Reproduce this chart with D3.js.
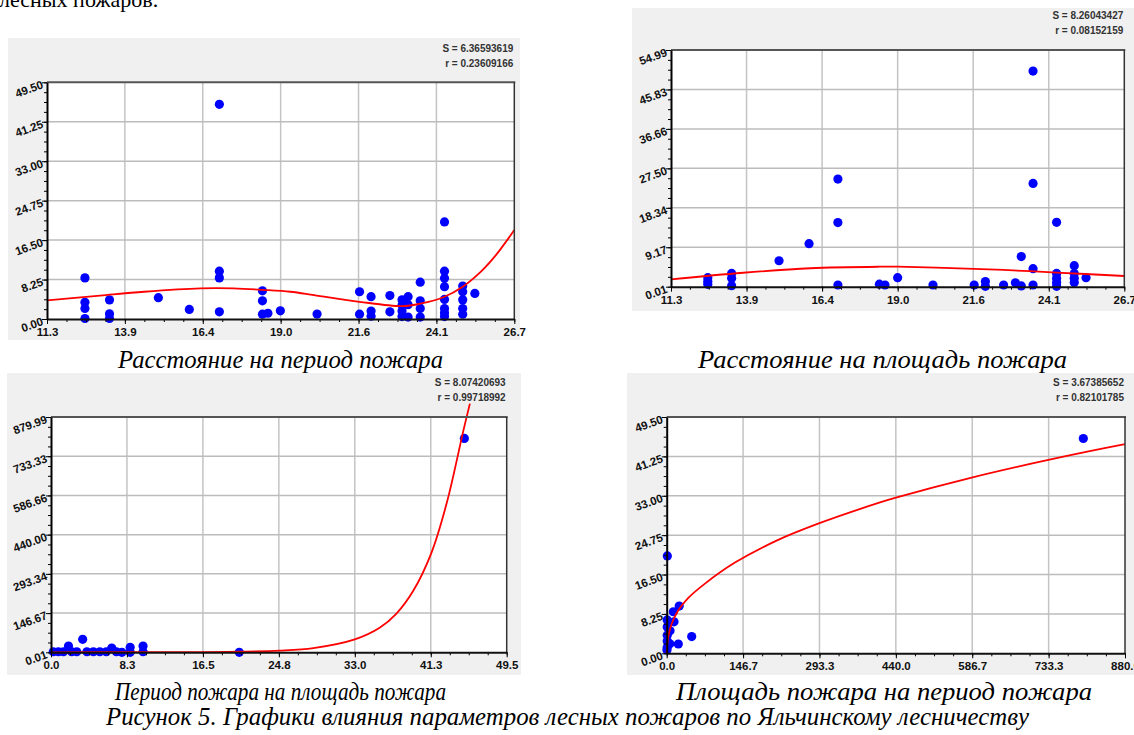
<!DOCTYPE html>
<meta charset="utf-8">
<style>
body { margin: 0; background: #fff; }
svg { display: block; }
.tk text { font: bold 11.5px "Liberation Sans", Arial, sans-serif; fill: #111; }
.stat { font: bold 10px "Liberation Sans", Arial, sans-serif; fill: #333; }
.cap { font: italic 25px "Liberation Serif", "Times New Roman", serif; fill: #000; }
</style>
<body>
<script src="https://cdn.jsdelivr.net/npm/d3@7"></script>
<script>

// ---- panel 1: distance vs fire period
var p1XLabels = ["11.3","13.9","16.4","19.0","21.6","24.1","26.7"];
var p1YLabels = ["0.00","8.25","16.50","24.75","33.00","41.25","49.50"];
var p1Dist   = [12.55,12.55,12.55,12.55,13.36,13.36,13.36,14.97,15.99,16.98,16.98,16.98,16.98,18.4,18.4,18.4,18.58,18.99,20.2,21.6,21.6,21.98,21.98,21.98,22.6,22.6,23.0,23.0,23.0,23.0,23.2,23.2,23.2,23.6,23.6,23.6,23.6,24.4,24.4,24.4,24.4,24.4,24.4,24.4,24.4,25.0,25.0,25.0,25.0,25.0,25.4];
var p1Period = [8.6,3.5,2.2,0.1,4.0,1.1,0.1,4.45,2.0,44.9,10.0,8.6,1.5,5.9,3.8,1.0,1.2,1.7,1.04,5.7,1.0,4.66,1.67,0.6,4.9,1.5,4.0,2.9,1.67,0.5,4.66,3.0,0.4,7.7,3.8,2.2,0.4,20.3,10.0,8.5,6.75,4.1,2.2,1.3,0.5,6.9,5.7,4.0,2.2,1.0,5.35];
var p1FitX = [11.3,13.05,14.5,16.35,17.45,18.4,19.32,20.1,21.6,23.0,23.6,24.4,25.0,25.6,26.1,26.7];
var p1FitY = [3.9,4.9,5.7,6.4,6.4,6.1,5.7,5.0,3.6,2.7,3.2,4.66,6.75,9.9,13.4,18.6];
var p1Stats = ["S = 6.36593619", "r = 0.23609166"];

// ---- panel 2: distance vs fire area
var p2XLabels = ["11.3","13.9","16.4","19.0","21.6","24.1","26.7"];
var p2YLabels = ["0.01","9.17","18.34","27.50","36.66","45.83","54.99"];
var p2Dist = [12.55,12.55,12.55,13.36,13.36,13.36,14.97,15.99,16.97,16.97,16.97,18.38,18.57,19.0,20.2,21.6,21.98,21.98,22.6,23.0,23.2,23.2,23.6,23.6,23.6,23.6,24.4,24.4,24.4,24.4,24.4,25.0,25.0,25.0,25.0,25.4];
var p2Area = [2.1,1.3,0.56,3.1,1.95,0.25,6.04,10.0,25.0,14.9,0.4,0.6,0.4,2.1,0.4,0.4,1.2,0.1,0.4,0.9,7.0,0.2,50.1,24.0,4.2,0.4,14.96,3.1,2.0,1.0,0.1,4.9,3.1,2.0,1.0,2.1];
var p2FitX = [11.3,13.75,16.03,18.38,19.0,20.3,22.6,24.4,26.7];
var p2FitY = [1.7,3.25,4.3,4.65,4.65,4.45,3.9,3.3,2.5];
var p2Stats = ["S = 8.26043427", "r = 0.08152159"];

// ---- panel 3: fire period vs fire area
var p3XLabels = ["0.0","8.3","16.5","24.8","33.0","41.3","49.5"];
var p3YLabels = ["0.01","146.67","293.34","440.00","586.66","733.33","879.99"];
var p3Period = [0.25,0.8,1.35,1.9,2.25,2.8,3.44,3.9,4.6,5.3,6.0,6.6,7.1,7.7,8.6,8.6,10.0,10.0,20.45,44.9];
var p3Area   = [2,2,2,23.6,2,2,48.6,2,2,2,2,16,2,0,18.7,0,23.6,2,0,800];
var p3FitX = [0,8.3,16.5,20.5,24.8,28.5,33,35.7,37.5,39.35,41.3,43,44.8,45.5];
var p3FitY = [0.1,0.5,1,2.5,6.5,16,48.6,92,144,230,370,560,830,930];
var p3Stats = ["S = 8.07420693", "r = 0.99718992"];

// ---- panel 4: fire area vs fire period
var p4XLabels = ["0.0","146.7","293.3","440.0","586.7","733.3","880.0"];
var p4YLabels = ["0.00","8.25","16.50","24.75","33.00","41.25","49.50"];
var p4Area   = [1.2,24,12.7,14,1,1,6.4,1,1,1,22.3,48,6,0.5,800];
var p4Period = [20.4,9.9,8.7,6.6,7,5.5,4.7,3.8,2.6,1.2,1.95,3.5,2.0,0.7,45.0];
var p4FitX = [0,3,9.6,22.3,41.5,73.5,131,211,292,409.6,440,585.6,732.8,880];
var p4FitY = [0,3.5,6.2,9.0,11.6,14.6,19.0,23.6,27.2,31.6,32.6,36.8,40.5,43.8];
var p4Stats = ["S = 3.67385652", "r = 0.82101785"];

var captions = ["Расстояние на период пожара", "Расстояние на площадь пожара",
                "Период пожара на площадь пожара", "Площадь пожара на период пожара",
                "Рисунок 5. Графики влияния параметров лесных пожаров по Яльчинскому лесничеству"];

var svg = d3.select("body").append("svg")
  .attr("width", 1134)
  .attr("height", 735);

svg.append("text")
  .attr("x", -1).attr("y", 7)
  .style("font", "22px 'Liberation Serif', serif")
  .text("лесных пожаров.");

var panels = [
  {bg: [8, 38, 520, 340], plot: [47, 82.3, 514.3, 319], sy: [51.7, 66.7],
   xl: p1XLabels, yl: p1YLabels, xs: p1Dist, ys: p1Period, fx: p1FitX, fy: p1FitY, st: p1Stats},
  {bg: [632, 8, 1134, 311], plot: [671, 50, 1124.3, 286.7], sy: [19, 34.3],
   xl: p2XLabels, yl: p2YLabels, xs: p2Dist, ys: p2Area, fx: p2FitX, fy: p2FitY, st: p2Stats},
  {bg: [7, 373, 521, 675], plot: [51, 417, 506.7, 652.3], sy: [386, 401],
   xl: p3XLabels, yl: p3YLabels, xs: p3Period, ys: p3Area, fx: p3FitX, fy: p3FitY, st: p3Stats},
  {bg: [627, 373, 1134, 675], plot: [666.7, 417, 1125, 653.3], sy: [386, 401],
   xl: p4XLabels, yl: p4YLabels, xs: p4Area, ys: p4Period, fx: p4FitX, fy: p4FitY, st: p4Stats}
];

panels.forEach(drawPanel);

function drawPanel(p) {
  var g = svg.append("g");
  var L = p.plot[0], T = p.plot[1], R = p.plot[2], B = p.plot[3];

  g.append("rect")
    .attr("x", p.bg[0]).attr("y", p.bg[1])
    .attr("width", p.bg[2] - p.bg[0]).attr("height", p.bg[3] - p.bg[1])
    .attr("fill", "#f0f0f0");
  g.append("rect")
    .attr("x", L).attr("y", T).attr("width", R - L).attr("height", B - T)
    .attr("fill", "#fff");

  var x = d3.scaleLinear().domain([+p.xl[0], +p.xl[6]]).range([L, R]);
  var y = d3.scaleLinear().domain([+p.yl[0], +p.yl[6]]).range([B, T]);

  var split = function(sc, n) {
    var d = sc.domain();
    return d3.range(n + 1).map(function(i) { return d[0] + i * (d[1] - d[0]) / n; });
  };
  var xMaj = split(x, 6), yMaj = split(y, 6);

  // grid
  g.selectAll(".vg").data(xMaj.slice(1, 6)).enter().append("line")
    .attr("x1", function(d) { return x(d); }).attr("x2", function(d) { return x(d); })
    .attr("y1", T).attr("y2", B)
    .attr("stroke", "#c4c4c4").attr("stroke-width", 1.5);
  g.selectAll(".hg").data(yMaj.slice(1, 6)).enter().append("line")
    .attr("y1", function(d) { return y(d); }).attr("y2", function(d) { return y(d); })
    .attr("x1", L).attr("x2", R)
    .attr("stroke", "#bcbcbc").attr("stroke-width", 1.5);

  // points
  g.selectAll(".pt").data(p.xs).enter().append("circle")
    .attr("cx", function(d) { return x(d); })
    .attr("cy", function(d, i) { return y(p.ys[i]); })
    .attr("r", 4.6)
    .attr("fill", "#0000ff");

  // fitted curve
  var line = d3.line()
    .x(function(d) { return x(d); })
    .y(function(d, i) { return y(p.fy[i]); })
    .curve(d3.curveCatmullRom.alpha(0.5));
  g.append("path")
    .attr("d", line(p.fx))
    .attr("fill", "none")
    .attr("stroke", "#ff0000")
    .attr("stroke-width", 1.8);

  // top / right frame
  g.append("line").attr("x1", L).attr("x2", R + 1).attr("y1", T).attr("y2", T)
    .attr("stroke", "#555").attr("stroke-width", 2);
  g.append("line").attr("x1", R).attr("x2", R).attr("y1", T).attr("y2", B)
    .attr("stroke", "#333").attr("stroke-width", 1.5);

  // minor ticks
  g.append("g").attr("class", "tk").attr("transform", "translate(0," + B + ")")
    .call(d3.axisBottom(x).tickValues(split(x, 24)).tickSize(3).tickFormat(""))
    .call(function(a) { a.select(".domain").remove(); });
  g.append("g").attr("class", "tk").attr("transform", "translate(" + L + ",0)")
    .call(d3.axisLeft(y).tickValues(split(y, 24)).tickSize(3).tickFormat(""))
    .call(function(a) { a.select(".domain").remove(); });

  // major axes
  var xa = g.append("g").attr("class", "tk").attr("transform", "translate(0," + B + ")")
    .call(d3.axisBottom(x).tickValues(xMaj).tickSize(5).tickSizeOuter(0)
      .tickFormat(function(d, i) { return p.xl[i]; }));
  xa.select(".domain").attr("stroke-width", 2).attr("stroke", "#111");
  xa.selectAll("text").attr("y", 17).attr("dy", null);

  var ya = g.append("g").attr("class", "tk").attr("transform", "translate(" + L + ",0)")
    .call(d3.axisLeft(y).tickValues(yMaj).tickSize(5).tickSizeOuter(0)
      .tickFormat(function(d, i) { return p.yl[i]; }));
  ya.select(".domain").attr("stroke-width", 2).attr("stroke", "#000");
  ya.selectAll("text")
    .attr("x", 0).attr("dy", null)
    .attr("text-anchor", "end")
    .attr("transform", "translate(-3,5) rotate(-20)");

  // stats
  g.selectAll(".stat").data(p.st).enter().append("text")
    .attr("class", "stat")
    .attr("x", R - 1)
    .attr("y", function(d, i) { return p.sy[i]; })
    .attr("text-anchor", "end")
    .text(function(d) { return d; });
}

// captions
var capPos = [[280.5, 368, 325], [882.5, 368, 369], [280.5, 700, 331], [884, 700, 416], [567.5, 725, 923]];
svg.selectAll(".cap").data(captions).enter().append("text")
  .attr("class", "cap")
  .attr("x", function(d, i) { return capPos[i][0]; })
  .attr("y", function(d, i) { return capPos[i][1]; })
  .attr("text-anchor", "middle")
  .attr("textLength", function(d, i) { return capPos[i][2]; })
  .attr("lengthAdjust", "spacingAndGlyphs")
  .text(function(d) { return d; });

</script>
